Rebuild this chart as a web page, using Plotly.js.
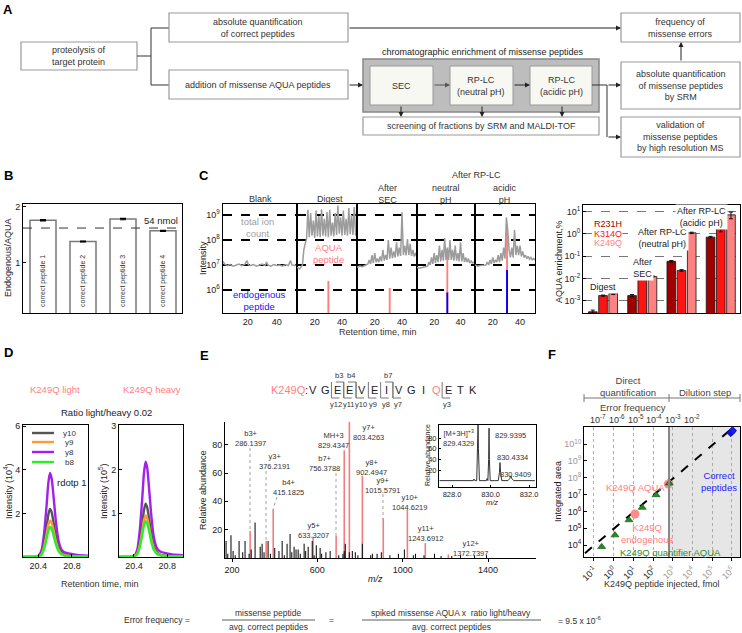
<!DOCTYPE html>
<html><head><meta charset="utf-8">
<script src="https://cdn.plot.ly/plotly-3.0.1.min.js"></script>
<style>html,body{margin:0;padding:0;background:#fff}#chart{width:742px;height:633px}</style>
</head><body><div id="chart"></div>
<script>
// ================= DATA =================
// Panel B
const bCats = ['correct peptide 1','correct peptide 2','correct peptide 3','correct peptide 4'];
const bRatio = [1.76, 1.38, 1.78, 1.57];
const bErr = [0.012, 0.008, 0.012, 0.01];
const bRefLevel = 1.62;
const bRefLabel = '54 nmol';

// Panel C (left) total ion count traces
const blankTime = [3,4,6,8,10,12,14,16,18,19.5,20.5,22,24,26,28,30,32,33,34,36,38,40,42,44,46,48,49.5,50.5,52,54];
const blankTic  = [1.4e7,1.1e7,0.95e7,1.05e7,0.9e7,1.0e7,1.1e7,0.95e7,1.05e7,1.5e7,1.0e7,0.95e7,1.05e7,0.9e7,1.0e7,1.1e7,0.95e7,1.3e7,1.0e7,0.9e7,1.05e7,0.95e7,1.0e7,0.9e7,1.05e7,0.95e7,1.5e7,1.0e7,0.95e7,1.0e7];
const digestTime = [7,9,11,12,13,14,15,16,17,18,19,20,21,22,23,24,25,26,27,28,29,30,31,32,33,34,35,36,37,38,39,40,41,42,43,44,45,46,47,48,49,50,51];
const digestTic  = [8e6,7e6,1.0e7,4e7,7e7,1.1e8,1.6e9,1.3e8,1.2e9,1.5e8,6e8,1.2e8,1.5e9,1.4e8,9e8,1.3e8,1.7e9,1.5e8,7e8,1.4e8,1.3e9,1.3e8,1.6e9,1.5e8,5e8,1.4e8,1.2e9,1.6e8,2.4e9,1.8e8,8e8,1.5e8,1.5e9,1.6e8,7e8,1.5e8,1.9e9,1.7e8,1.0e9,1.6e8,2.1e9,1.6e8,1.4e8];
const fracTime = [7,9,11,13,15,16,17,18,19,20,21,22,23,24,25,26,27,28,29,30,31,32,33,34,35,36,37,38,39,40,41,42,43,44,45,46,47,48,49,50,51];
const secTic     = [8e6,9e6,8.5e6,1.0e7,1.1e7,1.6e7,1.1e7,2.5e7,1.2e7,3e7,1.3e7,1.8e7,1.3e7,2.2e7,1.4e7,4e7,1.5e7,2.5e7,1.6e7,1.0e8,1.8e7,5e7,1.9e7,3.5e7,2e7,8e7,2.2e7,5e7,2.3e7,1.3e9,2.5e7,6e7,2.4e7,1.1e8,2.5e7,7e7,2.3e7,4e7,2.2e7,3e7,2e7];
const neutralTic = [8e6,7.5e6,8e6,8.5e6,9e6,1.3e7,1.0e7,2e7,1.1e7,3e7,1.2e7,2.5e7,1.3e7,6e7,1.4e7,4e7,1.5e7,1.2e8,1.6e7,5e7,1.6e7,1.0e8,1.6e7,4e7,1.5e7,6e7,1.5e7,3e7,1.4e7,8e7,1.4e7,3e7,1.3e7,2e7,1.3e7,1.8e7,1.2e7,1.5e7,1.2e7,1.3e7,1.2e7];
const acidicTic  = [1.0e7,9e6,9.5e6,1.0e7,1.0e7,1.3e7,1.0e7,1.6e7,1.1e7,2e7,1.2e7,1.6e7,1.3e7,2.5e7,1.3e7,3e7,1.5e7,5e7,1.8e7,8e8,2.5e8,4e7,2e7,5e7,2e7,2.5e8,2.5e7,6e7,2.5e7,6e7,2.2e7,3.5e7,2e7,2.5e7,1.8e7,2.2e7,1.7e7,2e7,1.6e7,1.8e7,1.6e7];
const cPanelNames = ['Blank','Digest','After<br>SEC','neutral<br>pH','acidic<br>pH'];
// AQUA peptide (Digest, SEC, neutral, acidic) and endogenous peptide (neutral, acidic)
const aquaTime = [30, 31, 30, 30.5];
const aquaInt  = [2.3e6, 1.2e6, 4.4e7, 3.2e8];
const endoTime = [30, 30.5];
const endoInt  = [8e5, 6.3e6];

// Panel C (right) AQUA enrichment %
const rStages = ['Digest','After SEC','After RP-LC neutral','After RP-LC acidic'];
const r231h = [0.00032, 0.0017, 0.059, 0.72];
const k314q = [0.0017, 0.0112, 0.023, 1.7];
const k249q = [0.0021, 0.0123, 1.12, 7.2];
const r231hErr = [0.00006, 0.0002, 0.005, 0.06];
const k314qErr = [0.0001, 0.0008, 0.002, 0.45];
const k249qErr = [0.0002, 0.0009, 0.08, 2.4];
const rNames = ['R231H','K314Q','K249Q'];

// Panel D transitions
const dTime = [20.22,20.34,20.40,20.44,20.47,20.50,20.52,20.54,20.56,20.58,20.61,20.64,20.68,20.72,20.78,20.86,20.99];
const dNames = ['y10','y9','y8','b8'];
const lightY10 = [0,0,0.02,0.18,0.62,1.36,1.94,2.2,2.05,1.63,0.92,0.44,0.18,0.09,0.055,0.035,0.02];
const lightY9  = [0,0,0.02,0.13,0.47,1.04,1.48,1.68,1.56,1.24,0.71,0.34,0.13,0.07,0.04,0.025,0.02];
const lightY8  = [0,0,0.04,0.31,1.08,2.39,3.39,3.85,3.58,2.85,1.62,0.77,0.31,0.2,0.15,0.1,0.06];
const lightB8  = [0,0,0.01,0.11,0.39,0.86,1.21,1.38,1.28,1.02,0.58,0.28,0.11,0.055,0.035,0.02,0.015];
const heavyY10 = [0,0,0.01,0.1,0.34,0.76,1.07,1.22,1.13,0.9,0.51,0.24,0.1,0.05,0.03,0.02,0.01];
const heavyY9  = [0,0,0.01,0.08,0.27,0.59,0.84,0.95,0.88,0.7,0.4,0.19,0.08,0.04,0.025,0.015,0.01];
const heavyY8  = [0,0,0.02,0.17,0.61,1.35,1.92,2.18,2.03,1.61,0.92,0.44,0.19,0.12,0.09,0.06,0.04];
const heavyB8  = [0,0,0.01,0.07,0.23,0.51,0.72,0.82,0.76,0.61,0.34,0.16,0.07,0.035,0.02,0.015,0.01];
const ratioText = 'Ratio light/heavy 0.02';

// Panel E MS/MS spectrum
const seqLetters = ['V','G','E','E','V','E','I','V','G','I','Q','E','T','K'];
const seqMutIndex = 10;
const bIons = [['b3',3],['b4',4],['b7',7]];
const yIons = [['y12',2],['y11',3],['y10',4],['y9',5],['y8',6],['y7',7],['y3',11]];
const blackMz = [172,180,195,205,215,233,250,261,280,290,308,332,341,350,369,380,400,420,435,445,458,472,480,491,500,510,520,538,545,557,576,585,595,613,620,640,660,700,720,726,731,750,764,778,790,811,850,858,880,900,940,980,1008,1050,1060,1100,1149,1180,1230,1271,1337,1393];
const blackH  = [12,3,16,5,2,12,4,12,3,6,25,8,10,4,12,3,7,5,12,2,10,17,4,8,6,6,3,10,5,8,12,2,9,7,3,4,5,2,3,5,10,4,5,4,2,10,2,3,3,4,2,3,6,2,3,2,3,1.5,1.5,2,2,2];
const ionNames = ['b3+','y3+','b4+','y5+','b7+','MH+3','y7+','y8+','y9+','y10+','y11+','y12+'];
const ionMass  = ['286.1397','376.2191','415.1825','633.3207','756.3788','829.4347','803.4263','902.4947','1015.5791','1044.6219','1243.6912','1372.7397'];
const ionMz    = [285, 360, 393, 580, 688, 726, 750, 811, 909, 1022, 1106, 1214];
const ionH     = [19, 12, 34.5, 15, 15.5, 76, 100, 58, 28, 34, 10.5, 2.5];
const insetMz  = [827.35,828.9,829.1,829.14,829.18,829.28,829.33,829.35,829.37,829.42,829.6,829.78,829.82,829.86,829.9,829.92,829.94,829.98,830.2,830.4,830.46,830.49,830.52,830.58,830.9,831.0,831.05,831.1,831.2,832.3];
const insetInt = [0,0,0,3,0,0,60,110,60,0,0,0,4,0,40,99,40,0,0,0,15,34,15,0,0,4,9,4,0,0];
const insetLabels = ['[M+3H]<sup>+3</sup><br>829.4329','829.9395','830.4334','830.9409'];

// Panel F calibration
const fitX = [0.035, 1.0e6];
const fitY = [3.3e3, 8.5e10];
const quantX = [0.245, 1.16, 6.0, 28, 141, 660];
const quantY = [7.9e3, 3.9e4, 3.1e5, 1.7e6, 9.5e6, 4.7e7];
const k249qPtX = [12, 590];
const k249qPtY = [7.0e5, 4.3e7];
const correctX = [8.5e5, 9.3e5, 1.0e6, 1.1e6];
const correctY = [4.7e10, 5.2e10, 5.8e10, 6.4e10];
const errFreqTicks = [-7, -6, -5, -4, -3, -2];

// ================= LAYOUT HELPERS =================
const W = 742, H = 633;
const X = p => p / W;
const Y = p => 1 - p / H;
const FONT = 'Liberation Sans, Arial, Helvetica, sans-serif';
const SALMON = '#ff7f7f';
const shapes = [], annotations = [];
function rect(x0,y0,x1,y1,fill,line,lw){shapes.push({type:'rect',xref:'paper',yref:'paper',x0:X(x0),x1:X(x1),y0:Y(y1),y1:Y(y0),fillcolor:fill,line:{color:line,width:lw}});}
function seg(x0,y0,x1,y1,color,lw,dash){shapes.push({type:'line',xref:'paper',yref:'paper',x0:X(x0),y0:Y(y0),x1:X(x1),y1:Y(y1),line:{color:color||'#333',width:lw||1,dash:dash||'solid'}});}
function txt(x,y,text,size,color,extra){annotations.push(Object.assign({xref:'paper',yref:'paper',x:X(x),y:Y(y),text:text,showarrow:false,xanchor:'center',yanchor:'middle',font:{family:FONT,size:size||9,color:color||'#333'}},extra||{}));}
function arrow(x0,y0,x1,y1,color){annotations.push({xref:'paper',yref:'paper',x:X(x1),y:Y(y1),ax:x0-x1,ay:y0-y1,axref:'pixel',ayref:'pixel',text:'',showarrow:true,arrowhead:2,arrowsize:1,arrowwidth:1,arrowcolor:color||'#222',standoff:0,startstandoff:0});}
const sup = n => '10<sup>' + n + '</sup>';
const grey = s => '<span style="color:#9a9a9a">' + s + '</span>';

// ================= PANEL A (flowchart) =================
txt(8,10,'<b>A</b>',13,'#000');
const BOX='#9a9a9a';
rect(21,42,137,70,'#fff',BOX,1.2); txt(79,56,'proteolysis of<br>target protein');
seg(137,56,151,56); seg(151,28,151,85); seg(151,28,169,28); seg(151,85,169,85);
rect(169,13,348,42,'#fff',BOX,1.2); txt(258,27.5,'absolute quantification<br>of correct peptides');
rect(169,70,348,99,'#fff',BOX,1.2); txt(258,85,'addition of missense AQUA peptides');
arrow(348,85,363,85);
txt(483,52,'chromatographic enrichment of missense peptides',9,'#222');
rect(363,59,599,112,'#bdbdbd','#888',1.5);
rect(370,66,433,105,'#f8f8f3','#999',1); txt(401.5,85.5,'SEC');
rect(450,66,513,105,'#f8f8f3','#999',1); txt(481.5,85.5,'RP-LC<br>(neutral pH)');
rect(530,66,592,105,'#f8f8f3','#999',1); txt(561,85.5,'RP-LC<br>(acidic pH)');
arrow(433,85,450,85,'#555'); arrow(513,85,530,85);
rect(363,117,599,135,'#fff',BOX,1.2); txt(481,126,'screening of fractions by SRM and MALDI-TOF');
arrow(401,105,401,117); arrow(482,105,482,117); arrow(562,105,562,117);
seg(592,85,607,85); arrow(607,85,621,85); seg(607,85,607,137); arrow(607,137,621,137);
rect(621,13,740,42,'#fff',BOX,1.2); txt(680.5,27.5,'frequency of<br>missense errors');
rect(621,62,740,109,'#fff',BOX,1.2); txt(680.5,85.5,'absolute quantification<br>of missense peptides<br>by SRM');
rect(621,117,740,157,'#fff',BOX,1.2); txt(680.5,137,'validation of<br>missense peptides<br>by high resolution MS');
arrow(348,28,621,28); arrow(681,62,681,42);

// ================= AXES =================
const base = {zeroline:false, showgrid:false, showline:true, linecolor:'#000', linewidth:1, ticks:'inside', ticklen:3, tickcolor:'#000', tickfont:{family:FONT,size:9,color:'#222'}, automargin:false, fixedrange:true};
const ax = o => Object.assign({}, base, o);
const layout = {width:W, height:H, margin:{l:0,r:0,t:0,b:0}, paper_bgcolor:'#fff', plot_bgcolor:'rgba(0,0,0,0)', showlegend:false, barmode:'group', font:{family:FONT,size:9,color:'#222'}};

// B
layout.xaxis = ax({domain:[X(23),X(182)], anchor:'y', type:'category', range:[-0.5,3.475], showticklabels:false, ticks:'', mirror:true});
layout.yaxis = ax({domain:[Y(313),Y(204)], anchor:'x', range:[0.1,2.05], tickvals:[1,2], mirror:true});
// C left
const cDom = [[223,297],[297,357],[357,417],[417,475],[475,535]];
const cRange = [[3,54],[7,51],[7,51],[7,51],[7,51]];
for (let i=0;i<5;i++){
  layout['xaxis'+(i+2)] = ax({domain:[X(cDom[i][0]),X(cDom[i][1])], anchor:'y'+(i+2), range:cRange[i], tickvals:[20,40], ticks:'', mirror:true, linewidth:1.4});
  layout['yaxis'+(i+2)] = ax({domain:[Y(313),Y(204)], anchor:'x'+(i+2), type:'log', range:[5.08,9.44], tickvals:[1e6,1e7,1e8,1e9], ticktext:[sup(6),sup(7),sup(8),sup(9)], showticklabels:i===0, ticks:'', showgrid:true, gridcolor:'#000', griddash:'dash', gridwidth:1.1, mirror:true, linewidth:1.4});
}
// C right
layout.xaxis7 = ax({domain:[X(583),X(740)], anchor:'y7', type:'category', range:[-0.5,3.5], showticklabels:false, ticks:'', mirror:true});
layout.yaxis7 = ax({domain:[Y(313),Y(205)], anchor:'x7', type:'log', range:[-3.55,1.3], tickvals:[1e-3,1e-2,1e-1,1,10], ticktext:[sup(-3),sup(-2),sup(-1),sup(0),sup(1)], showgrid:true, gridcolor:'#555', griddash:'dash', gridwidth:0.8, mirror:true});
// D
layout.xaxis8 = ax({domain:[X(23),X(88)], anchor:'y8', range:[20.22,20.99], tickvals:[20.4,20.8], ticktext:['20.4','20.8'], mirror:true});
layout.yaxis8 = ax({domain:[Y(557),Y(425)], anchor:'x8', range:[0,6.05], tickvals:[2,4,6], mirror:true});
layout.xaxis9 = ax({domain:[X(119),X(183)], anchor:'y9', range:[20.22,20.99], tickvals:[20.4,20.8], ticktext:['20.4','20.8'], mirror:true});
layout.yaxis9 = ax({domain:[Y(557),Y(425)], anchor:'x9', range:[0,3.02], tickvals:[1,2,3], mirror:true});
// E
layout.xaxis10 = ax({domain:[X(225),X(536)], anchor:'y10', range:[167,1625], tickvals:[200,600,1000,1400], ticks:'outside'});
layout.yaxis10 = ax({domain:[Y(558),Y(422)], anchor:'x10', range:[0,96], tickvals:[20,40,60,80]});
layout.xaxis11 = ax({domain:[X(439),X(536)], anchor:'y11', range:[827.32,832.36], tickvals:[828,830,832], ticktext:['828.0','830.0','832.0'], tickfont:{family:FONT,size:7.5,color:'#222'}, mirror:true, ticklen:2});
layout.yaxis11 = ax({domain:[Y(487),Y(425)], anchor:'x11', range:[-12,105], tickvals:[20,40,60,80], tickfont:{family:FONT,size:7.5,color:'#222'}, mirror:true, ticklen:2});
// F
layout.xaxis12 = ax({domain:[X(584),X(740)], anchor:'y12', type:'log', range:[-1.507,6.41], tickvals:[0.1,1,10,100,1e3,1e4,1e5,1e6], ticktext:[sup(-1),sup(0),sup(1),sup(2),grey(sup(3)),grey(sup(4)),grey(sup(5)),grey(sup(6))], tickangle:-45, showgrid:true, gridcolor:'#999', griddash:'dot', gridwidth:0.8, mirror:true, ticks:'outside'});
layout.yaxis12 = ax({domain:[Y(557),Y(427)], anchor:'x12', type:'log', range:[3.29,11.02], tickvals:[1e4,1e5,1e6,1e7,1e8,1e9,1e10], ticktext:[sup(4),sup(5),sup(6),sup(7),grey(sup(8)),grey(sup(9)),grey(sup(10))], mirror:true});

// ================= TRACES =================
const traces = [];
// B
traces.push({type:'bar', x:bCats, y:bRatio, xaxis:'x', yaxis:'y', width:0.65, marker:{color:'#fff', line:{color:'#7a7a7a', width:1.5}}, error_y:{type:'data', array:bErr, color:'#000', thickness:1.2, width:3}, hoverinfo:'skip'});
shapes.push({type:'line', xref:'x domain', yref:'y', x0:0, x1:1, y0:bRefLevel, y1:bRefLevel, line:{color:'#333', width:1, dash:'dash'}});
annotations.push({xref:'x domain', yref:'y', x:0.985, y:bRefLevel, xanchor:'right', yanchor:'bottom', text:bRefLabel, showarrow:false, font:{family:FONT,size:9.5,color:'#222'}});
bCats.forEach((c,i)=>annotations.push({xref:'x', yref:'paper', x:c, y:Y(281), text:c, textangle:-90, showarrow:false, font:{family:FONT,size:7,color:'#333'}}));
txt(8,175,'<b>B</b>',13,'#000');
txt(8,258,'Endogenous/AQUA',9,'#222',{textangle:-90});

// C left
const ticT = [blankTime, digestTime, fracTime, fracTime, fracTime];
const ticV = [blankTic, digestTic, secTic, neutralTic, acidicTic];
for (let i=0;i<5;i++){
  traces.push({type:'scatter', mode:'lines', x:ticT[i], y:ticV[i], xaxis:'x'+(i+2), yaxis:'y'+(i+2), line:{color:'#9c9c9c', width:1.5}, hoverinfo:'skip'});
}
aquaTime.forEach((t,k)=>traces.push({type:'bar', x:[t], y:[aquaInt[k]], xaxis:'x'+(k+3), yaxis:'y'+(k+3), width:1.4, offsetgroup:'c', marker:{color:SALMON, line:{width:0}}, hoverinfo:'skip'}));
endoTime.forEach((t,k)=>traces.push({type:'bar', x:[t], y:[endoInt[k]], xaxis:'x'+(k+5), yaxis:'y'+(k+5), width:1.4, offsetgroup:'c', marker:{color:'#0000ff', line:{width:0}}, hoverinfo:'skip'}));
txt(204,175,'<b>C</b>',13,'#000');
txt(476,175,'After RP-LC');
const cTitleX = [260,330,387,446,505];
cPanelNames.forEach((n,i)=>txt(cTitleX[i], n.indexOf('<br>')>=0?193.5:199, n));
txt(257,227.5,'total ion<br>count',9.5,'#a0a0a0');
txt(328,253.5,'AQUA<br>peptide',9.5,SALMON);
txt(259,300.5,'endogenous<br>peptide',9.5,'#1515ff');
txt(203,258,'Intensity',9,'#222',{textangle:-90});
txt(378,332,'Retention time, min');

// C right
const rColors = ['#a00000','#ff1414','#ff8282'];
const rVals = [r231h, k314q, k249q];
const rErrs = [r231hErr, k314qErr, k249qErr];
const rOffsets = [-0.36, -0.1, 0.16];
for (let s=0;s<3;s++){
  traces.push({type:'bar', x:rStages, y:rVals[s], xaxis:'x7', yaxis:'y7', width:0.22, offset:rOffsets[s], marker:{color:rColors[s], line:{color:'#111', width:0.8}}, error_y:{type:'data', array:rErrs[s], color:'#111', thickness:1, width:2}, hoverinfo:'skip'});
}
rNames.forEach((n,i)=>txt(593,224+9.5*i,n,9,rColors[i],{xanchor:'left', bgcolor:'#fff', borderpad:0}));
txt(603,287,'Digest',9,'#222',{bgcolor:'#fff'});
txt(642,268,'After<br>SEC',9,'#222',{bgcolor:'#fff'});
txt(662,238,'After RP-LC<br>(neutral pH)',9,'#222',{bgcolor:'#fff'});
txt(701,217,'After RP-LC<br>(acidic pH)',9,'#222',{bgcolor:'#fff'});
txt(559,262,'AQUA enrichment,%',9,'#222',{textangle:-90});

// D
const dColors = ['#555555','#ff9a3c','#a21ff0','#2bee2b'];
const lightSeries = [lightY10, lightY9, lightY8, lightB8];
const heavySeries = [heavyY10, heavyY9, heavyY8, heavyB8];
[2,0,1,3].forEach(k=>{
  traces.push({type:'scatter', mode:'lines', x:dTime, y:lightSeries[k], xaxis:'x8', yaxis:'y8', line:{color:dColors[k], width:2.4, shape:'spline', smoothing:0.6}, hoverinfo:'skip'});
  traces.push({type:'scatter', mode:'lines', x:dTime, y:heavySeries[k], xaxis:'x9', yaxis:'y9', line:{color:dColors[k], width:2.4, shape:'spline', smoothing:0.6}, hoverinfo:'skip'});
});
dNames.forEach((n,i)=>{const yy=[433,442,452,462][i]; seg(32,yy,54,yy,dColors[i],2.4); txt(69,yy,n,8,'#333');});
txt(72,482,'rdotp 1',9.5,'#222');
txt(8,353,'<b>D</b>',13,'#000');
txt(55,389,'K249Q light',9.5,SALMON);
txt(152,389,'K249Q heavy',9.5,SALMON);
txt(107,412,ratioText,9.5,'#222');
txt(8,491,'Intensity (10<sup>4</sup>)',9,'#222',{textangle:-90});
txt(103,491,'Intensity (10<sup>5</sup>)',9,'#222',{textangle:-90});
txt(100,584,'Retention time, min');

// E
traces.push({type:'bar', x:ionMz, y:ionH, xaxis:'x10', yaxis:'y10', width:7.5, offsetgroup:'e', marker:{color:'#f47c7c', line:{width:0}}, hoverinfo:'skip'});
traces.push({type:'bar', x:blackMz, y:blackH, xaxis:'x10', yaxis:'y10', width:5, offsetgroup:'e', marker:{color:'#111', line:{width:0}}, hoverinfo:'skip'});
traces.push({type:'scatter', mode:'lines', x:insetMz, y:insetInt, xaxis:'x11', yaxis:'y11', line:{color:'#333', width:1}, hoverinfo:'skip'});
txt(204,355,'<b>E</b>',13,'#000');
// sequence
txt(288,390,'K249Q',11,SALMON); txt(306,390,':',11,'#222');
const sx0 = 313, sdx = 12.3;
seqLetters.forEach((l,i)=>txt(sx0+sdx*i,390,l,11,i===seqMutIndex?SALMON:'#222'));
bIons.forEach(([n,k])=>{const cx=sx0+sdx*(k-0.5); seg(cx,382,cx,398,'#777',1); seg(cx-8,382,cx,382,'#777',1); txt(cx-5,376,n,7.5,'#333');});
yIons.forEach(([n,k])=>{const cx=sx0+sdx*(k-0.5); seg(cx,382,cx,398,'#777',1); seg(cx,398,cx+8,398,'#777',1); txt(cx+5,404,n,7.5,'#333');});
// ion labels
const ionLabelPos = [[250,438],[274,461],[288,487],[313,530],[324,463],[333,440],[368,432],[371,467],[383,485],[409,502],[425,533],[470,548]];
ionNames.forEach((n,i)=>txt(ionLabelPos[i][0],ionLabelPos[i][1],n+'<br>'+ionMass[i],7.5,'#333'));
const LD = '#8a8a8a';
seg(250,448,250,531,LD,0.8,'dot'); seg(266,471,266,541,LD,0.8,'dot'); seg(277,497,273,509,LD,0.8,'dot');
seg(336,473,336,536,LD,0.8,'dot'); seg(383,494,383,519,LD,0.8,'dot');
const insetLabelPos = [[459,437.5],[510,435],[512,457],[515,474]];
insetLabels.forEach((s,i)=>txt(insetLabelPos[i][0],insetLabelPos[i][1],s,7.5,'#333'));
txt(428,455,'Relative abundance',7,'#222',{textangle:-90});
txt(492,502,'<i>m/z</i>',7.5,'#222');
txt(203,490,'Relative abundance',9,'#222',{textangle:-90});
txt(375,579,'<i>m/z</i>',9,'#222');

// F
shapes.push({type:'rect', xref:'x12 domain', yref:'y12 domain', x0:0.545, x1:1, y0:0, y1:1, fillcolor:'#e6e6e6', line:{width:0}, layer:'below'});
shapes.push({type:'line', xref:'x12 domain', yref:'y12 domain', x0:0.545, x1:0.545, y0:0, y1:1, line:{color:'#888', width:2}});
traces.push({type:'scatter', mode:'lines', x:fitX, y:fitY, xaxis:'x12', yaxis:'y12', line:{color:'#000', width:2, dash:'dash'}, hoverinfo:'skip'});
traces.push({type:'scatter', mode:'markers', x:k249qPtX, y:k249qPtY, xaxis:'x12', yaxis:'y12', marker:{color:'#ff8a8a', size:9, line:{width:0}}, hoverinfo:'skip'});
traces.push({type:'scatter', mode:'markers', x:quantX, y:quantY, xaxis:'x12', yaxis:'y12', marker:{symbol:'triangle-up', color:'#1f8f1f', size:7, line:{color:'#0a4a0a', width:0.6}}, hoverinfo:'skip'});
traces.push({type:'scatter', mode:'markers', x:correctX, y:correctY, xaxis:'x12', yaxis:'y12', marker:{symbol:'diamond', color:'#1a1aff', size:6, line:{color:'#00008a', width:0.6}}, hoverinfo:'skip'});
txt(552,354,'<b>F</b>',13,'#000');
seg(584,398,740,398,'#777',1); seg(584,394,584,402,'#777',1); seg(669,394,669,402,'#777',1); seg(740,394,740,402,'#777',1);
txt(628,386,'Direct<br>quantification',9.5,'#444');
txt(705,392,'Dilution step',9.5,'#444');
txt(633,407,'Error frequency',9.5,'#444');
// error-frequency scale (top of F)
const efX = [598, 616.8, 635.6, 654.4, 673.2, 692];
errFreqTicks.forEach((e,i)=>txt(efX[i],419,sup(e),9,'#333'));
txt(635,487,'K249Q AQUA',9.5,SALMON);
txt(647,533,'K249Q<br>endogenous',9.5,SALMON);
txt(670,552,'K249Q quantifier AQUA',9.5,'#2e8b2e');
txt(719,481,'Correct<br>peptides',9.5,'#2222ff');
txt(558,492,'Integrated area',9,'#222',{textangle:-90});
txt(662,584,'K249Q peptide injected, fmol');

// Equation
txt(157,620,'Error frequency =',8.5);
txt(268,613,'missense peptide',8.5); seg(222,620,315,620,'#333',0.8); txt(268,627,'avg. correct peptides',8.5);
txt(331,620,'=',8.5);
txt(451,613,'spiked missense AQUA x  ratio light/heavy',8.5); seg(362,620,541,620,'#333',0.8); txt(451,627,'avg. correct peptides',8.5);
txt(580,620,'= 9.5 x 10<sup>-6</sup>',8.5);

layout.shapes = shapes;
layout.annotations = annotations;
Plotly.newPlot('chart', traces, layout, {displayModeBar:false, staticPlot:true});
</script>
</body></html>
